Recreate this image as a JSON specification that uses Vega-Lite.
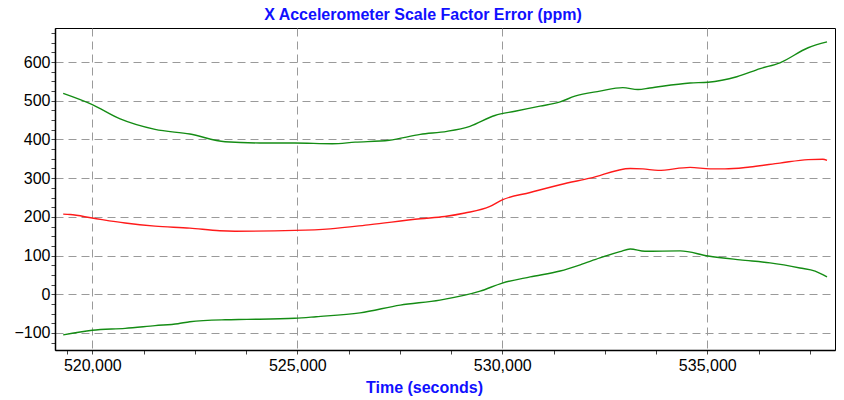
{
  "$schema": "https://vega.github.io/schema/vega-lite/v6.json",
  "width": 780,
  "height": 322,
  "autosize": "none",
  "padding": {"left": 55, "top": 28, "right": 9, "bottom": 50},
  "background": "white",
  "title": {
    "text": "X Accelerometer Scale Factor Error (ppm)",
    "font": "Liberation Sans",
    "fontSize": 16,
    "fontWeight": "bold",
    "color": "#1010ff",
    "anchor": "middle",
    "dx": -22,
    "baseline": "alphabetic",
    "offset": -11
  },
  "config": {
    "view": {"stroke": "black", "strokeWidth": 1},
    "axis": {
      "labelFont": "Liberation Sans",
      "labelFontSize": 16,
      "labelColor": "black",
      "domainColor": "black",
      "domainWidth": 1.5,
      "tickColor": "#444444",
      "tickSize": 4,
      "gridColor": "#9a9a9a",
      "gridDash": [8, 5],
      "gridWidth": 1,
      "titleFont": "Liberation Sans",
      "titleFontSize": 16,
      "titleFontWeight": "bold",
      "titleColor": "#1010ff"
    }
  },
  "data": {
    "values": [
      {"t": 519290, "v": 519, "s": "upper"},
      {"t": 520000, "v": 490, "s": "upper"},
      {"t": 520680, "v": 453, "s": "upper"},
      {"t": 521530, "v": 426, "s": "upper"},
      {"t": 522380, "v": 414, "s": "upper"},
      {"t": 523240, "v": 394, "s": "upper"},
      {"t": 524090, "v": 391, "s": "upper"},
      {"t": 524940, "v": 391, "s": "upper"},
      {"t": 525850, "v": 389, "s": "upper"},
      {"t": 526410, "v": 393, "s": "upper"},
      {"t": 527240, "v": 398, "s": "upper"},
      {"t": 528000, "v": 413, "s": "upper"},
      {"t": 528650, "v": 421, "s": "upper"},
      {"t": 529210, "v": 434, "s": "upper"},
      {"t": 529820, "v": 462, "s": "upper"},
      {"t": 530310, "v": 473, "s": "upper"},
      {"t": 530920, "v": 486, "s": "upper"},
      {"t": 531410, "v": 497, "s": "upper"},
      {"t": 531770, "v": 512, "s": "upper"},
      {"t": 532380, "v": 525, "s": "upper"},
      {"t": 532940, "v": 534, "s": "upper"},
      {"t": 533310, "v": 529, "s": "upper"},
      {"t": 533600, "v": 533, "s": "upper"},
      {"t": 534580, "v": 546, "s": "upper"},
      {"t": 535020, "v": 548, "s": "upper"},
      {"t": 535720, "v": 562, "s": "upper"},
      {"t": 536290, "v": 583, "s": "upper"},
      {"t": 536770, "v": 598, "s": "upper"},
      {"t": 537460, "v": 637, "s": "upper"},
      {"t": 537920, "v": 652, "s": "upper"},

      {"t": 519290, "v": 207, "s": "mid"},
      {"t": 519460, "v": 206, "s": "mid"},
      {"t": 520000, "v": 197, "s": "mid"},
      {"t": 520800, "v": 184, "s": "mid"},
      {"t": 521530, "v": 176, "s": "mid"},
      {"t": 522380, "v": 171, "s": "mid"},
      {"t": 523110, "v": 164, "s": "mid"},
      {"t": 523480, "v": 163, "s": "mid"},
      {"t": 524940, "v": 165, "s": "mid"},
      {"t": 525800, "v": 169, "s": "mid"},
      {"t": 526780, "v": 180, "s": "mid"},
      {"t": 528000, "v": 195, "s": "mid"},
      {"t": 528600, "v": 201, "s": "mid"},
      {"t": 529090, "v": 210, "s": "mid"},
      {"t": 529700, "v": 227, "s": "mid"},
      {"t": 530000, "v": 244, "s": "mid"},
      {"t": 530680, "v": 263, "s": "mid"},
      {"t": 531410, "v": 283, "s": "mid"},
      {"t": 532140, "v": 300, "s": "mid"},
      {"t": 533120, "v": 325, "s": "mid"},
      {"t": 533430, "v": 324, "s": "mid"},
      {"t": 533800, "v": 320, "s": "mid"},
      {"t": 534580, "v": 328, "s": "mid"},
      {"t": 535070, "v": 324, "s": "mid"},
      {"t": 535430, "v": 324, "s": "mid"},
      {"t": 536040, "v": 329, "s": "mid"},
      {"t": 536770, "v": 339, "s": "mid"},
      {"t": 537460, "v": 348, "s": "mid"},
      {"t": 537820, "v": 349, "s": "mid"},
      {"t": 537920, "v": 346, "s": "mid"},

      {"t": 519290, "v": -105, "s": "lower"},
      {"t": 520000, "v": -93, "s": "lower"},
      {"t": 520800, "v": -88, "s": "lower"},
      {"t": 521530, "v": -81, "s": "lower"},
      {"t": 522090, "v": -76, "s": "lower"},
      {"t": 522380, "v": -71, "s": "lower"},
      {"t": 523240, "v": -66, "s": "lower"},
      {"t": 523770, "v": -65, "s": "lower"},
      {"t": 524940, "v": -62, "s": "lower"},
      {"t": 525460, "v": -58, "s": "lower"},
      {"t": 526530, "v": -48, "s": "lower"},
      {"t": 527510, "v": -28, "s": "lower"},
      {"t": 528480, "v": -15, "s": "lower"},
      {"t": 529460, "v": 8, "s": "lower"},
      {"t": 530000, "v": 29, "s": "lower"},
      {"t": 530680, "v": 45, "s": "lower"},
      {"t": 531410, "v": 60, "s": "lower"},
      {"t": 531900, "v": 76, "s": "lower"},
      {"t": 532380, "v": 94, "s": "lower"},
      {"t": 532870, "v": 110, "s": "lower"},
      {"t": 533120, "v": 117, "s": "lower"},
      {"t": 533480, "v": 111, "s": "lower"},
      {"t": 534340, "v": 112, "s": "lower"},
      {"t": 535020, "v": 99, "s": "lower"},
      {"t": 535800, "v": 89, "s": "lower"},
      {"t": 536530, "v": 81, "s": "lower"},
      {"t": 537260, "v": 68, "s": "lower"},
      {"t": 537630, "v": 60, "s": "lower"},
      {"t": 537920, "v": 45, "s": "lower"}
    ]
  },
  "mark": {"type": "line", "strokeWidth": 1.4, "interpolate": "monotone"},
  "encoding": {
    "x": {
      "field": "t",
      "type": "quantitative",
      "scale": {"domain": [519090, 538115], "nice": false, "zero": false},
      "axis": {
        "title": "Time (seconds)",
        "values": [519375, 520000, 521250, 522500, 523750, 525000, 526250, 527500, 528750, 530000, 531250, 532500, 533750, 535000, 536250, 537500],
        "labelExpr": "datum.value % 5000 === 0 ? format(datum.value, ',') : ''",
        "labelPadding": 3,
        "labelFlush": false,
        "labelOverlap": false,
        "gridOpacity": {"condition": {"test": "datum.value % 5000 === 0", "value": 1}, "value": 0},
        "titleX": 369,
        "titleY": 42,
        "titleBaseline": "alphabetic",
        "titleAnchor": "start",
        "titleAlign": "center"
      }
    },
    "y": {
      "field": "v",
      "type": "quantitative",
      "scale": {"domain": [-144, 688], "nice": false, "zero": false},
      "axis": {
        "title": null,
        "values": [-125, -100, -75, -50, -25, 0, 25, 50, 75, 100, 125, 150, 175, 200, 225, 250, 275, 300, 325, 350, 375, 400, 425, 450, 475, 500, 525, 550, 575, 600, 625, 650, 675],
        "labelExpr": "datum.value % 100 === 0 ? format(datum.value, 'd') : ''",
        "labelPadding": 1,
        "labelOverlap": false,
        "gridOpacity": {"condition": {"test": "datum.value % 100 === 0", "value": 1}, "value": 0}
      }
    },
    "detail": {"field": "s"},
    "color": {
      "field": "s",
      "type": "nominal",
      "scale": {"domain": ["upper", "mid", "lower"], "range": ["#148c14", "#ff1a1a", "#148c14"]},
      "legend": null
    }
  }
}
